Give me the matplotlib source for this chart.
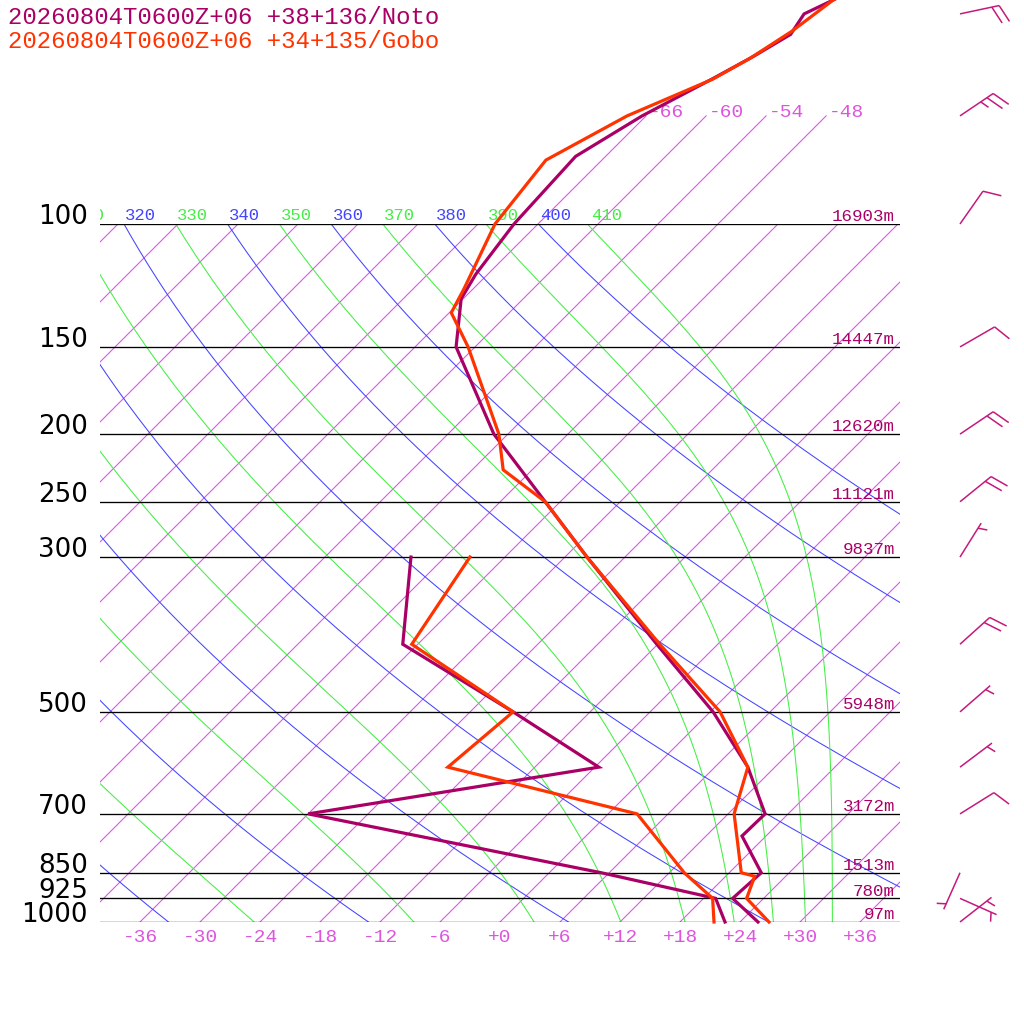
import numpy as np
import matplotlib
matplotlib.use("Agg")
import matplotlib.pyplot as plt
from matplotlib.ticker import NullLocator
from matplotlib.transforms import Affine2D, IdentityTransform, blended_transform_factory
from matplotlib.patches import Rectangle
from matplotlib.collections import LineCollection

title_noto = "20260804T0600Z+06 +38+136/Noto"
title_gobo = "20260804T0600Z+06 +34+135/Gobo"

# isobars drawn on the chart and the heights written on them
levels = [100, 150, 200, 250, 300, 500, 700, 850, 925, 1000]
heights = ["16903m", "14447m", "12620m", "11121m", "9837m",
           "5948m", "3172m", "1513m", "780m", "97m"]

temp_ticks = list(range(-36, 37, 6))

# Noto sounding (hPa, degC)
noto_p = [1000, 925, 850, 753, 700, 600, 500, 400, 300, 250, 200, 150,
          128, 118, 100, 80, 70, 62, 57.5, 53.5, 50, 45]
noto_t = [25.8, 20.9, 21.2, 15.6, 15.7, 9.3, 0.3, -12.1, -27.8, -37.5,
          -49.4, -61.9, -66.2, -67.2, -68.4, -69.0, -66.4, -63.1, -61.2,
          -59.7, -60.4, -56.9]
noto_dp = [1000, 925, 850, 700, 600, 500, 400, 300]
noto_td = [22.5, 19.2, 5.2, -30.0, -5.6, -19.7, -37.5, -45.4]

# Gobo sounding
gobo_p = [1000, 925, 860, 850, 700, 600, 500, 400, 300, 250, 225, 200,
          150, 134, 124, 100, 81, 70, 62, 58, 53, 45]
gobo_t = [26.9, 22.3, 20.9, 19.2, 12.6, 9.3, 1.0, -11.8, -27.8, -37.5,
          -44.9, -48.9, -60.7, -65.8, -66.9, -70.3, -71.6, -67.9, -63.0,
          -61.4, -59.9, -58.3]
gobo_dp = [1000, 925, 850, 700, 600, 500, 400, 300]
gobo_td = [21.4, 18.9, 13.5, 2.9, -20.7, -19.7, -36.6, -39.5]

# wind (Noto): direction deg, speed kt
wind_p = [50, 70, 100, 150, 200, 250, 300, 400, 500, 600, 700, 850, 925, 1000]
wind_dir = [78, 56, 35, 60, 56, 51, 32, 48, 49, 53, 58, 204, 114, 52]
wind_kt = [20, 25, 10, 10, 20, 20, 5, 20, 5, 5, 10, 5, 5, 5]

isotherms = np.arange(-120, 43, 6)
isotherms_top = [-66, -60, -54, -48]
dry_theta = np.arange(240, 401, 20)
moist_thetae = np.arange(250, 411, 20)
theta_labels = np.arange(310, 411, 10)

NOTO = '#aa0066'
GOBO = '#ff3300'
BARBC = '#c41a7c'
ISO = '#dd4ef0'
ISO_TXT = '#dd55dd'
BLUE = '#4444ff'
GREEN = '#44ee44'
MONO = 'Liberation Mono'
KAPPA = 0.2857


def thetae(tk, p):
    # Bolton (1980) for saturated air
    tc = tk - 273.15
    e = 6.112 * np.exp(17.67 * tc / (tc + 243.5))
    r = 622.0 * e / (p - e)
    return tk * (1000.0 / p) ** (KAPPA * (1 - 0.28e-3 * r)) * \
        np.exp((3.376 / tk - 0.00254) * r * (1 + 0.81e-3 * r))


def moist_adiabat(te, p):
    lo = np.full(p.shape, 120.0)
    hi = np.full(p.shape, 315.0)
    for _ in range(60):
        mid = 0.5 * (lo + hi)
        big = thetae(mid, p) > te
        hi = np.where(big, mid, hi)
        lo = np.where(big, lo, mid)
    return 0.5 * (lo + hi) - 273.15


def barb_segments(direction, kt, staff=40.0, barb=19.0, gap=7.5):
    # pixel offsets from the barb base, staff points where the wind comes from
    a = np.radians(direction)
    s = np.array([np.sin(a), np.cos(a)])
    n = np.array([s[1], -s[0]])
    segs = [[(0.0, 0.0), tuple(staff * s)]]
    full, half = divmod(int(round(kt / 5.0)), 2)
    pos = staff
    for _ in range(full):
        b = pos * s
        segs.append([tuple(b), tuple(b + barb * (0.93 * n + 0.36 * s))])
        pos -= gap
    if half:
        if full == 0:
            pos -= 0.8 * gap
        b = pos * s
        segs.append([tuple(b), tuple(b + 0.5 * barb * (0.93 * n + 0.36 * s))])
    return segs


fig = plt.figure(figsize=(10.24, 10.24), dpi=100)
ax = fig.add_axes([100 / 1024, 102 / 1024, 800 / 1024, 698 / 1024])
ax.set_yscale('log')
ax.set_ylim(1000, 100)
ax.set_xlim(-40, 40)
ax.set_autoscale_on(False)
for s in ax.spines.values():
    s.set_visible(False)
ax.yaxis.set_major_locator(NullLocator())
ax.yaxis.set_minor_locator(NullLocator())
ax.set_xticks(temp_ticks, [f"{t:+d}" for t in temp_ticks])
ax.tick_params(axis='x', length=0, pad=5, labelsize=14, labelcolor=ISO_TXT)
for lab in ax.get_xticklabels():
    lab.set_fontfamily(MONO)

skew = ax.transScale + ax.transLimits + \
    Affine2D().skew(np.arctan(698 / 800), 0) + ax.transAxes
plot_clip = Rectangle((100 / 1024, 0), 800 / 1024, 1, transform=fig.transFigure)

# isotherms
for t in isotherms:
    ax.plot([t, t], [1000, 100], transform=skew, color=ISO, lw=0.75, zorder=1)
for t in isotherms_top:
    ax.plot([t, t], [100, 70], transform=skew, color=ISO, lw=0.75,
            clip_on=False, zorder=1)
    ax.annotate(f"{t:d}", xy=(t, 70), xycoords=skew, xytext=(2, -1),
                textcoords='offset points', ha='left', va='baseline',
                fontsize=14, family=MONO, color=ISO_TXT, annotation_clip=False)

pp = np.geomspace(1000, 100, 300)
for th in dry_theta:
    ax.plot(th * (pp / 1000) ** KAPPA - 273.15, pp, transform=skew,
            color=BLUE, lw=0.75, zorder=1)
for te in moist_thetae:
    ax.plot(moist_adiabat(te, pp), pp, transform=skew, color=GREEN,
            lw=0.75, zorder=1)

for th in theta_labels:
    t100 = th * 0.1 ** KAPPA - 273.15
    txt = ax.annotate(str(th), xy=(t100, 100), xycoords=skew, xytext=(1, 3),
                      textcoords='offset points', ha='left', va='baseline',
                      fontsize=12.4, family=MONO, annotation_clip=False,
                      color=BLUE if th % 20 == 0 else GREEN)
    txt.set_clip_path(plot_clip)

# isobars and labels
for p, h in zip(levels, heights):
    ax.axhline(p, color='black', lw=0.95, zorder=2)
    ax.annotate(str(p), xy=(0, p), xycoords=('axes fraction', 'data'),
                xytext=(-8.6, 0), textcoords='offset points', ha='right',
                va='baseline', fontsize=18.8, family='DejaVu Sans',
                color='black', annotation_clip=False)
    ax.annotate(h, xy=(1, p), xycoords=('axes fraction', 'data'),
                xytext=(-3.6, 2), textcoords='offset points', ha='right',
                va='baseline', fontsize=12.6, family=MONO, color=NOTO,
                annotation_clip=False)

# soundings
kw = dict(transform=skew, lw=2.3, clip_on=False, zorder=5,
          solid_joinstyle='miter')
ax.plot(noto_t, noto_p, color=NOTO, **kw)
ax.plot(noto_td, noto_dp, color=NOTO, **kw)
ax.plot(gobo_t, gobo_p, color=GOBO, **kw)
ax.plot(gobo_td, gobo_dp, color=GOBO, **kw)

# wind barbs at the right of the chart
segs, offs = [], []
for p, dd, kt in zip(wind_p, wind_dir, wind_kt):
    one = barb_segments(dd, kt)
    segs.extend(one)
    offs.extend([(860 / 800, p)] * len(one))
barbs = LineCollection(segs, offsets=offs,
                       offset_transform=blended_transform_factory(ax.transAxes, ax.transData),
                       transform=IdentityTransform(), colors=BARBC,
                       linewidths=1.1, clip_on=False, zorder=6)
ax.add_collection(barbs, autolim=False)

fig.text(8 / 1024, 1 - 24 / 1024, title_noto, color=NOTO, fontsize=17.3,
         family=MONO, va='baseline')
fig.text(8 / 1024, 1 - 48 / 1024, title_gobo, color=GOBO, fontsize=17.3,
         family=MONO, va='baseline')

fig.savefig("out.png", dpi=100)
